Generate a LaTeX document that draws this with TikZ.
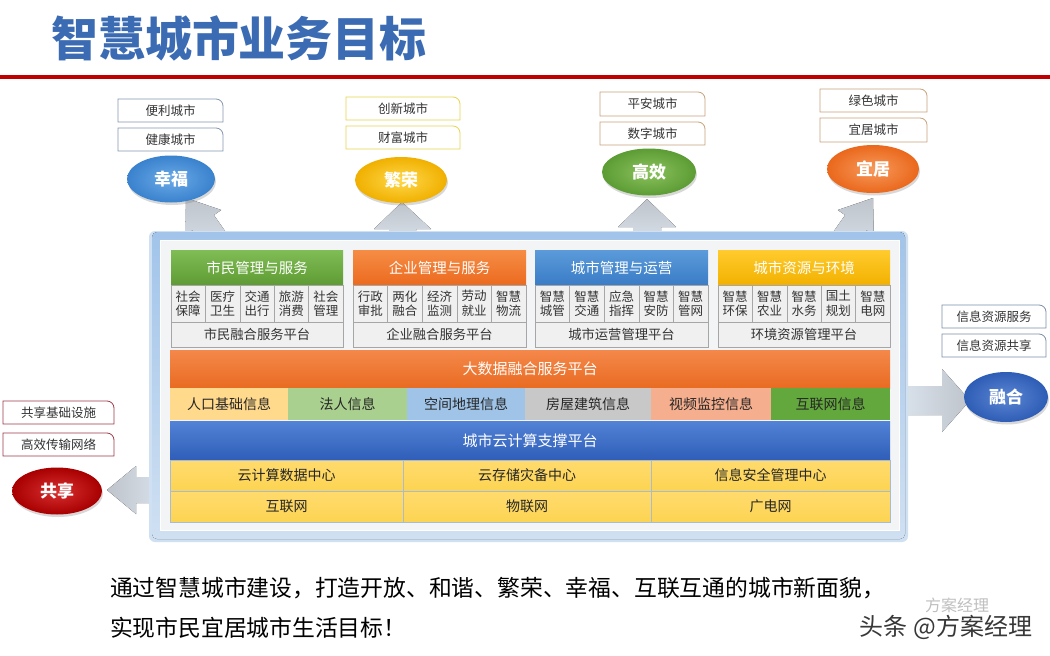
\documentclass[tikz,border=0pt]{standalone}
\usepackage{fontspec}
\setmainfont{Noto Sans CJK SC}
\usetikzlibrary{shapes.geometric,shadows,shadings}
\definecolor{titleblue}{HTML}{3B6BB3}
\definecolor{redline}{HTML}{C00000}
\definecolor{cellfill}{HTML}{F0F0F0}
\definecolor{cellborder}{HTML}{A6A6A6}
\definecolor{grnA}{HTML}{80BD55}\definecolor{grnB}{HTML}{5E9B34}
\definecolor{orgA}{HTML}{F68D45}\definecolor{orgB}{HTML}{EB6A1F}
\definecolor{bluA}{HTML}{5B9BDA}\definecolor{bluB}{HTML}{3A7CC6}
\definecolor{gldA}{HTML}{FFCB2E}\definecolor{gldB}{HTML}{F2B100}
\definecolor{bigA}{HTML}{F4884A}\definecolor{bigB}{HTML}{E96B22}
\definecolor{cldA}{HTML}{5283D6}\definecolor{cldB}{HTML}{2F5DB8}
\definecolor{yelA}{HTML}{FFDB6E}\definecolor{yelB}{HTML}{FCD452}
\definecolor{yelborder}{HTML}{A7BCD3}
\definecolor{arrA}{HTML}{BFC4CB}\definecolor{arrB}{HTML}{DCE5EF}
\definecolor{glowA}{HTML}{A2C4EA}\definecolor{glowB}{HTML}{CFE0F2}
\definecolor{panelfill}{HTML}{F3F4F6}
\definecolor{i1}{HTML}{FFD98C}\definecolor{i2}{HTML}{A9D08E}\definecolor{i3}{HTML}{9FC4E8}
\definecolor{i4}{HTML}{C8C8C8}\definecolor{i5}{HTML}{F5AE8E}\definecolor{i6}{HTML}{62A83C}
\definecolor{tagblue}{HTML}{8497B0}\definecolor{tagyel}{HTML}{E8D44D}
\definecolor{tagtan}{HTML}{C8A27C}\definecolor{taggray}{HTML}{7F8FA8}
\definecolor{tagred}{HTML}{9E3A48}
\definecolor{bxfA}{HTML}{6AAAE6}\definecolor{bxfB}{HTML}{3A82CE}
\definecolor{bfrA}{HTML}{FFD84A}\definecolor{bfrB}{HTML}{F0B000}
\definecolor{bgxA}{HTML}{8CC25E}\definecolor{bgxB}{HTML}{5C9C34}
\definecolor{byjA}{HTML}{F7995A}\definecolor{byjB}{HTML}{EA681C}
\definecolor{brhA}{HTML}{5C86D2}\definecolor{brhB}{HTML}{2E5DB6}
\definecolor{bgsA}{HTML}{D83030}\definecolor{bgsB}{HTML}{A80000}

\newcommand{\rnode}[7]{\node[#1, minimum width={(#5)-(#3)}, minimum height={(#6)-(#4)}] (#2) at (#3,#4) {#7};}
\newcommand{\tagbox}[7]{%
  \node[tagtext, minimum width={(#5)-(#3)}, minimum height={(#6)-(#4)}] (#2) at (#3,#4) {#7};
  \draw[#1, line width=0.8pt] (#2.south west) -- (#2.north west) -- ([xshift=-7pt]#2.north east) to[out=0,in=90] ([yshift=-7pt]#2.north east) -- (#2.south east) -- cycle;}
\newcommand{\cellrow}[4]{%
  \foreach \t [count=\i] in {#4} {%
    \pgfmathsetmacro{\xa}{#2+(\i-1)*((#3)-(#2))/5}%
    \node[cell, minimum width={((#3)-(#2))/5}, minimum height=37] (c#1-\i) at (\xa,285) {\t};
  }}

\begin{document}
\begin{tikzpicture}[x=1pt,y=-1pt,
  every node/.style={inner sep=0pt, outer sep=0pt},
  cell/.style={draw=cellborder, fill=cellfill, anchor=north west, align=center, text=black!80, font=\fontsize{12.5}{14.5}\selectfont},
  subrow/.style={cell, font=\fontsize{13.3}{15}\selectfont},
  hdr/.style={anchor=north west, text=white, font=\fontsize{14.5}{16}\selectfont},
  bar/.style={anchor=north west, text=white, font=\fontsize{15}{17}\selectfont},
  info/.style={anchor=north west, text=black!85, font=\fontsize{14}{16}\selectfont},
  yel/.style={anchor=north west, draw=yelborder, top color=yelA, bottom color=yelB, text=black!85, font=\fontsize{14}{16}\selectfont},
  tagtext/.style={anchor=north west, fill=white, text=black!80, font=\fontsize{12.5}{14}\selectfont},
  bub/.style={ellipse, text=white, font=\fontsize{17}{19}\selectfont\bfseries, drop shadow={opacity=0.3, shadow xshift=1pt, shadow yshift=-2.5pt}},
  body/.style={anchor=west, text=black, font=\fontsize{22.8}{26}\selectfont}
]
\useasboundingbox (0,0) rectangle (1050,656);
\fill[white] (0,0) rectangle (1050,656);

% title
\node[anchor=west, text=titleblue, font=\fontsize{47}{50}\selectfont\bfseries] (title) at (51,38) {智慧城市业务目标};
\draw[redline, line width=3.5pt] (0,77) -- (1050,77);

% block arrows
\fill[top color=arrA, bottom color=arrB] (186,198) -- (221.2,210) -- (213.9,215.1) -- (236.9,247.9) -- (215.5,262.9) -- (192.5,230.1) -- (185.2,235.2) -- cycle;
\fill[top color=arrA, bottom color=arrB] (389,250) -- (389,229) -- (374,229) -- (402,202) -- (431,229) -- (416,229) -- (416,250) -- cycle;
\fill[top color=arrA, bottom color=arrB] (633,250) -- (633,227) -- (618,227) -- (647,199) -- (676,227) -- (661,227) -- (661,250) -- cycle;
\fill[top color=arrA, bottom color=arrB] (873,198) -- (837.8,210) -- (845.1,215.1) -- (822.1,247.9) -- (843.5,262.9) -- (866.5,230.1) -- (873.8,235.2) -- cycle;
\fill[left color=arrB, right color=arrA] (895,386) -- (942,386) -- (942,369) -- (970,400.5) -- (942,432) -- (942,415) -- (895,415) -- cycle;
\fill[left color=arrA, right color=arrB] (170,477) -- (136,477) -- (136,466) -- (107,490) -- (136,514) -- (136,503) -- (170,503) -- cycle;

% panel
\fill[glowB, rounded corners=6pt] (149,231) rectangle (908,542);
\fill[top color=glowA, bottom color=glowB, rounded corners=5pt] (152,232) rectangle (905,539);
\node[anchor=north west, fill=panelfill, draw=white, line width=0.8pt, minimum width=739, minimum height=290] (panel) at (160,240) {};

% headers
\rnode{hdr, top color=grnA, bottom color=grnB}{h1}{171}{250}{343}{285}{市民管理与服务}
\rnode{hdr, top color=orgA, bottom color=orgB}{h2}{353}{250}{526}{285}{企业管理与服务}
\rnode{hdr, top color=bluA, bottom color=bluB}{h3}{535}{250}{708}{285}{城市管理与运营}
\rnode{hdr, top color=gldA, bottom color=gldB}{h4}{718}{250}{890}{285}{城市资源与环境}

% cells
\cellrow{1}{171}{343}{社会\\保障,医疗\\卫生,交通\\出行,旅游\\消费,社会\\管理}
\cellrow{2}{353}{526}{行政\\审批,两化\\融合,经济\\监测,劳动\\就业,智慧\\物流}
\cellrow{3}{535}{708}{智慧\\城管,智慧\\交通,应急\\指挥,智慧\\安防,智慧\\管网}
\cellrow{4}{718}{890}{智慧\\环保,智慧\\农业,智慧\\水务,国土\\规划,智慧\\电网}

% sub platforms
\rnode{subrow}{s1}{171}{322}{343}{347}{市民融合服务平台}
\rnode{subrow}{s2}{353}{322}{526}{347}{企业融合服务平台}
\rnode{subrow}{s3}{535}{322}{708}{347}{城市运营管理平台}
\rnode{subrow}{s4}{718}{322}{890}{347}{环境资源管理平台}

% big data bar and info row
\rnode{bar, top color=bigA, bottom color=bigB}{big}{170}{350}{890}{388}{大数据融合服务平台}
\rnode{info, fill=i1}{p1}{170}{388}{288}{420}{人口基础信息}
\rnode{info, fill=i2}{p2}{288}{388}{407}{420}{法人信息}
\rnode{info, fill=i3}{p3}{407}{388}{525}{420}{空间地理信息}
\rnode{info, fill=i4}{p4}{525}{388}{651}{420}{房屋建筑信息}
\rnode{info, fill=i5}{p5}{651}{388}{771}{420}{视频监控信息}
\rnode{info, fill=i6}{p6}{771}{388}{890}{420}{互联网信息}

% cloud bar and infrastructure
\rnode{bar, top color=cldA, bottom color=cldB}{cloud}{170}{421}{890}{460}{城市云计算支撑平台}
\rnode{yel}{y1}{170}{460}{403}{491}{云计算数据中心}
\rnode{yel}{y2}{403}{460}{651}{491}{云存储灾备中心}
\rnode{yel}{y3}{651}{460}{890}{491}{信息安全管理中心}
\rnode{yel}{y4}{170}{491}{403}{522}{互联网}
\rnode{yel}{y5}{403}{491}{651}{522}{物联网}
\rnode{yel}{y6}{651}{491}{890}{522}{广电网}

% goal bubbles
\node[bub, minimum width=88, minimum height=47, inner color=bxfA, outer color=bxfB] (xf) at (171,179) {幸福};
\node[bub, minimum width=92, minimum height=46, inner color=bfrA, outer color=bfrB] (fr) at (401,180) {繁荣};
\node[bub, minimum width=94, minimum height=47, inner color=bgxA, outer color=bgxB] (gx) at (649,172) {高效};
\node[bub, minimum width=92, minimum height=48, inner color=byjA, outer color=byjB] (yj) at (873,169) {宜居};
\node[bub, minimum width=84, minimum height=50, inner color=brhA, outer color=brhB] (rh) at (1006,397) {融合};
\node[bub, minimum width=90, minimum height=47, inner color=bgsA, outer color=bgsB] (gs) at (57,491) {共享};

% tags
\tagbox{tagblue}{t1}{118}{99}{223}{122}{便利城市}
\tagbox{tagblue}{t2}{118}{128}{223}{151}{健康城市}
\tagbox{tagyel}{t3}{346}{97}{460}{120}{创新城市}
\tagbox{tagyel}{t4}{346}{126}{460}{149}{财富城市}
\tagbox{tagtan}{t5}{600}{92}{705}{116}{平安城市}
\tagbox{tagtan}{t6}{600}{122}{705}{145}{数字城市}
\tagbox{tagtan}{t7}{820}{89}{927}{112}{绿色城市}
\tagbox{tagtan}{t8}{820}{118}{927}{142}{宜居城市}
\tagbox{taggray}{t9}{942}{305}{1046}{328}{信息资源服务}
\tagbox{taggray}{t10}{942}{334}{1046}{357}{信息资源共享}
\tagbox{tagred}{t11}{3}{401}{114}{424}{共享基础设施}
\tagbox{tagred}{t12}{3}{433}{114}{456}{高效传输网络}

% bottom text
\node[body] (l1) at (110,588) {通过智慧城市建设，打造开放、和谐、繁荣、幸福、互联互通的城市新面貌，};
\node[body] (l2) at (110,628) {实现市民宜居城市生活目标！};
\node[anchor=west, text=black!25, font=\fontsize{16}{18}\selectfont] (wm0) at (925,605) {方案经理};
\node[anchor=east, text=black!78, font=\fontsize{24}{26}\selectfont] (wm) at (1032,627) {头条 @方案经理};
\end{tikzpicture}
\end{document}
